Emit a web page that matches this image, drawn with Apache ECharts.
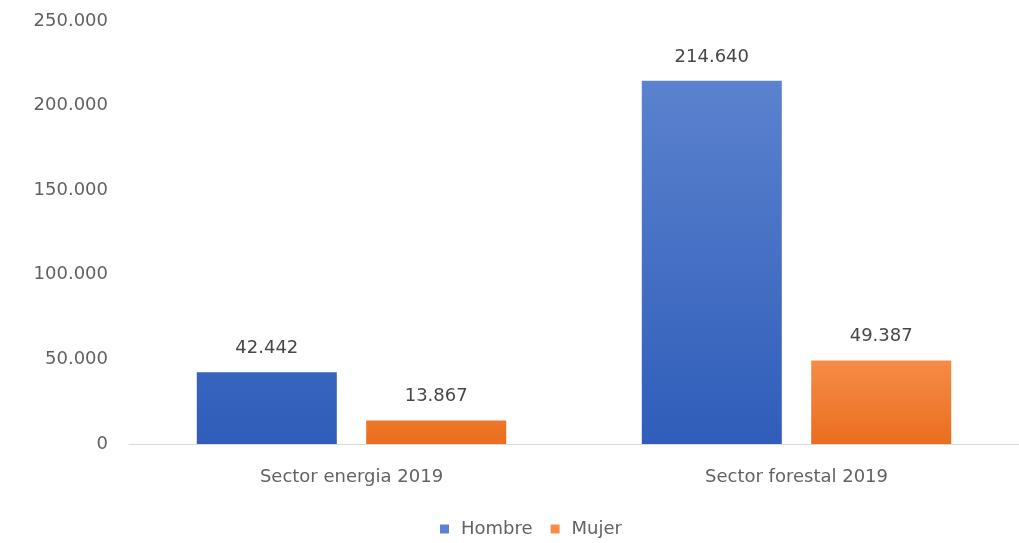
<!DOCTYPE html>
<html>
<head>
<meta charset="utf-8">
<script src="https://cdn.jsdelivr.net/npm/echarts@6/dist/echarts.min.js"></script>
<style>
html,body{margin:0;padding:0;background:#fff;}
#chart{width:1019px;height:543px;}
</style>
</head>
<body>
<div id="chart"></div>
<script>
const categories = ['Sector energia 2019', 'Sector forestal 2019'];
const seriesNames = ['Hombre', 'Mujer'];
const hombreValues = [42442, 214640];
const mujerValues = [13867, 49387];

function fmt(v) {
  return String(Math.round(v)).replace(/\B(?=(\d{3})+(?!\d))/g, '.');
}

const font = 'DejaVu Sans, sans-serif';
const fs = 18;
const chart = echarts.init(document.getElementById('chart'));
chart.setOption({
  animation: false,
  backgroundColor: '#fff',
  grid: { left: 129, width: 892, top: 21, bottom: 99, containLabel: false },
  legend: {
    top: 515, left: 435,
    itemWidth: 9, itemHeight: 9, itemGap: 18,
    icon: 'rect',
    textStyle: { color: '#626262', fontSize: fs, fontFamily: font, padding: [0, 0, 0, 7] },
    data: seriesNames
  },
  xAxis: {
    type: 'category',
    data: categories,
    axisLine: { lineStyle: { color: '#D9D9D9', width: 1 } },
    axisTick: { show: false },
    axisLabel: { color: '#626262', fontSize: fs, fontFamily: font, margin: 24 }
  },
  yAxis: {
    type: 'value',
    min: 0, max: 250000, interval: 50000,
    splitLine: { show: false },
    axisLine: { show: false },
    axisTick: { show: false },
    axisLabel: { color: '#626262', fontSize: fs, fontFamily: font, margin: 21, formatter: fmt }
  },
  series: [
    {
      name: 'Hombre', type: 'bar', data: hombreValues,
      barWidth: 140, barGap: '21%',
      itemStyle: { color: new echarts.graphic.LinearGradient(0, 80, 0, 444, [
        { offset: 0, color: '#5B82CE' }, { offset: 1, color: '#2F5DB9' }], true) },
      label: { show: true, position: 'top', distance: 15, color: '#474747', fontSize: fs, fontFamily: font, formatter: p => fmt(p.value) }
    },
    {
      name: 'Mujer', type: 'bar', data: mujerValues,
      barWidth: 140,
      itemStyle: { color: new echarts.graphic.LinearGradient(0, 360, 0, 444, [
        { offset: 0, color: '#F68C47' }, { offset: 1, color: '#EA6E1E' }], true) },
      label: { show: true, position: 'top', distance: 15, color: '#474747', fontSize: fs, fontFamily: font, formatter: p => fmt(p.value) }
    }
  ],
  color: ['#4472C4', '#ED7D31']
});
</script>
</body>
</html>
